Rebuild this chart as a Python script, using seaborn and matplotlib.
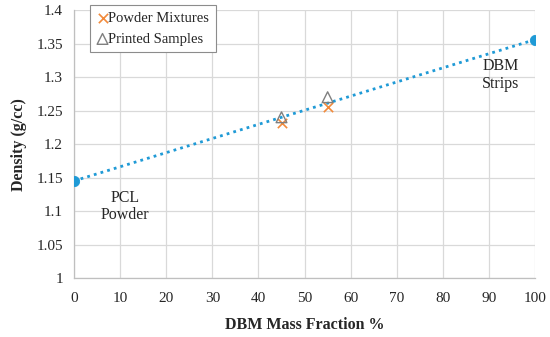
import matplotlib
matplotlib.use("Agg")
import matplotlib.pyplot as plt
import seaborn as sns
import numpy as np
import pandas as pd

end_x = [0, 100]
end_y = [1.145, 1.356]
powder_x = [45, 55]
powder_y = [1.232, 1.255]
printed_x = [45, 55]
printed_y = [1.240, 1.270]
yticks = [1, 1.05, 1.1, 1.15, 1.2, 1.25, 1.3, 1.35, 1.4]
ytick_labels = ["1", "1.05", "1.1", "1.15", "1.2", "1.25", "1.3", "1.35", "1.4"]
xticks = list(range(0, 101, 10))

sns.set_theme(style="whitegrid")
plt.rcParams['font.family'] = ['Liberation Serif', 'DejaVu Serif']

fig = plt.figure(figsize=(5.5, 3.37), dpi=100)
ax = fig.add_axes([0.1345, 0.175, 0.8385, 0.795])

blue = "#1f9ad6"
orange = "#f28a3b"
gray = "#7f7f7f"

# trendline
coef = np.polyfit(end_x, end_y, 1)
tx = np.array([0, 100])
ax.plot(tx, np.polyval(coef, tx), linestyle=(0, (1, 1.5)), color=blue, lw=2, zorder=2)

sns.scatterplot(x=end_x, y=end_y, ax=ax, color=blue, s=55, edgecolor=blue, zorder=4, legend=False)
ax.scatter(powder_x, powder_y, marker="x", color=orange, s=45, lw=1.2, zorder=5, label="Powder Mixtures")
ax.scatter(printed_x, printed_y, marker="^", facecolor="none", edgecolor=gray, s=60, lw=1.0, zorder=5, label="Printed Samples")

ax.set_xlim(0, 100)
ax.set_ylim(1, 1.4)
ax.set_xticks(xticks)
ax.set_yticks(yticks)
ax.set_yticklabels(ytick_labels)
ax.tick_params(axis='both', labelsize=11, length=4, width=0.9, color="#bfbfbf",
               direction="out", pad=4, labelcolor="#262626")
ax.tick_params(axis='x', pad=6)
ax.grid(True, color="#d9d9d9", lw=0.9)
for s in ax.spines.values():
    s.set_visible(False)
for side in ['bottom', 'left']:
    ax.spines[side].set_visible(True)
    ax.spines[side].set_color("#bfbfbf")
    ax.spines[side].set_linewidth(0.9)

ax.set_xlabel("DBM Mass Fraction %", fontsize=11.5, fontweight="bold", labelpad=9)
ax.set_ylabel("Density (g/cc)", fontsize=11.5, fontweight="bold", labelpad=7)

ax.text(11, 1.107, "PCL\nPowder", ha="center", va="center", fontsize=11.5, linespacing=1.1)
ax.text(92.5, 1.303, "DBM\nStrips", ha="center", va="center", fontsize=11.5, linespacing=1.1)

leg = ax.legend(loc="upper left", bbox_to_anchor=(0.035, 1.02), frameon=True, fontsize=10.5,
                handletextpad=0.0, handlelength=0.8, borderpad=0.45, labelspacing=0.55,
                borderaxespad=0, fancybox=False, edgecolor="#8c8c8c", framealpha=1)
leg.get_frame().set_linewidth(0.8)

fig.savefig("out.png", dpi=100)
